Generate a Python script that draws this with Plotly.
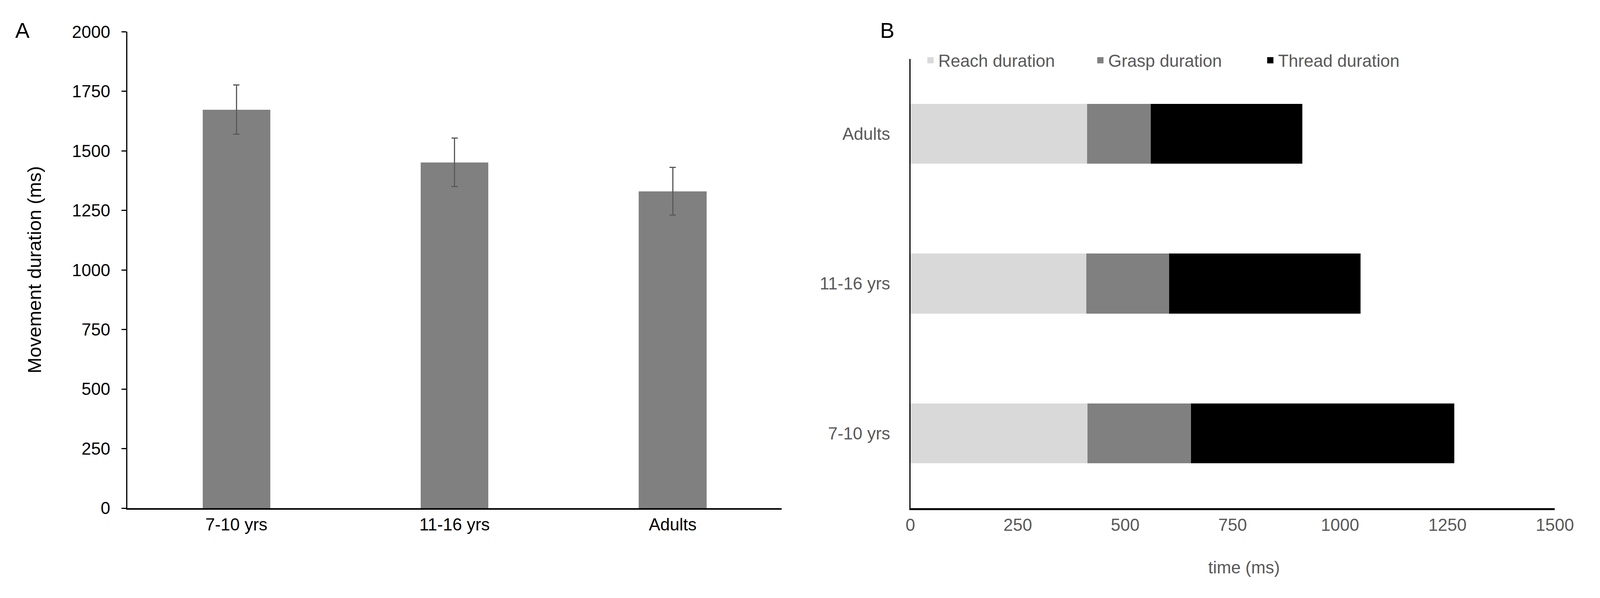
import plotly.graph_objects as go

# ---- data ----
groups = ["7-10 yrs", "11-16 yrs", "Adults"]
movement_ms = [1673, 1452, 1330]
movement_err = [103, 101, 100]

reach_ms = [412, 410, 411]
grasp_ms = [241, 192, 149]
thread_ms = [613, 446, 352]
series_names = ["Reach duration", "Grasp duration", "Thread duration"]
series_colors = ["#d9d9d9", "#808080", "#000000"]

y_ticks_a = [0, 250, 500, 750, 1000, 1250, 1500, 1750, 2000]
x_ticks_b = [0, 250, 500, 750, 1000, 1250, 1500]

W, H = 4306, 1531
FONT = "Liberation Sans, Arial, Helvetica, sans-serif"
FS = 44
GRAY = "#595959"

fig = go.Figure()

fig.add_trace(go.Bar(
    x=groups, y=movement_ms,
    error_y=dict(type="data", array=movement_err, color="#5a5a5a", thickness=3, width=8),
    marker=dict(color="#808080", line=dict(width=0)),
    width=0.31, xaxis="x", yaxis="y", showlegend=False,
))

for name, vals, col in zip(series_names, [reach_ms, grasp_ms, thread_ms], series_colors):
    fig.add_trace(go.Bar(
        y=groups, x=vals, orientation="h", name=name,
        marker=dict(color=col, line=dict(width=0)),
        width=0.4, xaxis="x2", yaxis="y2", showlegend=False,
    ))
    # legend swatch (legend only, no data drawn)
    fig.add_trace(go.Scatter(
        x=[None], y=[None], mode="markers", name=name,
        marker=dict(symbol="square", size=22, color=col),
        xaxis="x2", yaxis="y2", showlegend=True,
    ))

fig.update_layout(
    width=W, height=H,
    margin=dict(l=0, r=0, t=0, b=0),
    paper_bgcolor="white", plot_bgcolor="white",
    font=dict(family=FONT, size=FS, color="black"),
    barmode="stack",
    xaxis=dict(
        domain=[0.0778, 0.493], anchor="y", type="category", range=[-0.5, 2.5],
        showline=True, linecolor="black", linewidth=4, ticks="", showgrid=False,
        zeroline=False, tickfont=dict(size=FS, color="black"), ticklabelstandoff=0,
    ),
    yaxis=dict(
        domain=[0.139, 0.962], anchor="x", range=[0, 2000], tickvals=y_ticks_a,
        showline=True, linecolor="black", linewidth=3, ticks="outside", ticklen=12,
        tickwidth=3, tickcolor="black", showgrid=False, zeroline=False,
        tickfont=dict(size=FS, color="black"), ticklabelstandoff=20,
    ),
    xaxis2=dict(
        domain=[0.5746, 0.9835], anchor="y2", range=[0, 1500], tickvals=x_ticks_b,
        showline=True, linecolor="black", linewidth=5, ticks="", showgrid=False,
        zeroline=False, tickfont=dict(size=FS, color=GRAY), ticklabelstandoff=0,
    ),
    yaxis2=dict(
        domain=[0.139, 0.915], anchor="x2", type="category", range=[-0.5, 2.5],
        showline=True, linecolor="black", linewidth=3, ticks="", showgrid=False,
        zeroline=False, tickfont=dict(size=FS, color=GRAY), ticklabelstandoff=40,
    ),
    legend=dict(
        orientation="h", x=0.5824, xanchor="left", y=0.9125, yanchor="middle",
        font=dict(size=FS, color=GRAY), traceorder="normal",
        bgcolor="rgba(0,0,0,0)", entrywidth=390, entrywidthmode="pixels",
    ),
    annotations=[
        dict(text="A", x=0.0063, y=0.964, xref="paper", yref="paper", xanchor="left",
             yanchor="middle", showarrow=False, font=dict(size=55, color="black")),
        dict(text="B", x=0.5548, y=0.964, xref="paper", yref="paper", xanchor="left",
             yanchor="middle", showarrow=False, font=dict(size=55, color="black")),
        dict(text="Movement duration (ms)", x=0.019, y=0.551, xref="paper", yref="paper",
             xanchor="center", yanchor="middle", textangle=-90, showarrow=False,
             font=dict(size=49, color="black")),
        dict(text="time (ms)", x=0.7863, y=0.0366, xref="paper", yref="paper",
             xanchor="center", yanchor="middle", showarrow=False,
             font=dict(size=FS, color=GRAY)),
    ],
)

fig.write_html(
    "out.html",
    config={"displayModeBar": False},
    post_script=(
        "document.documentElement.style.margin='0px';"
        "document.body.style.margin='0px';"
        "document.body.style.overflow='hidden';"
        "var gd=document.getElementById('{plot_id}');"
        "Plotly.relayout(gd,{width:window.innerWidth,height:window.innerHeight});"
    ),
)
